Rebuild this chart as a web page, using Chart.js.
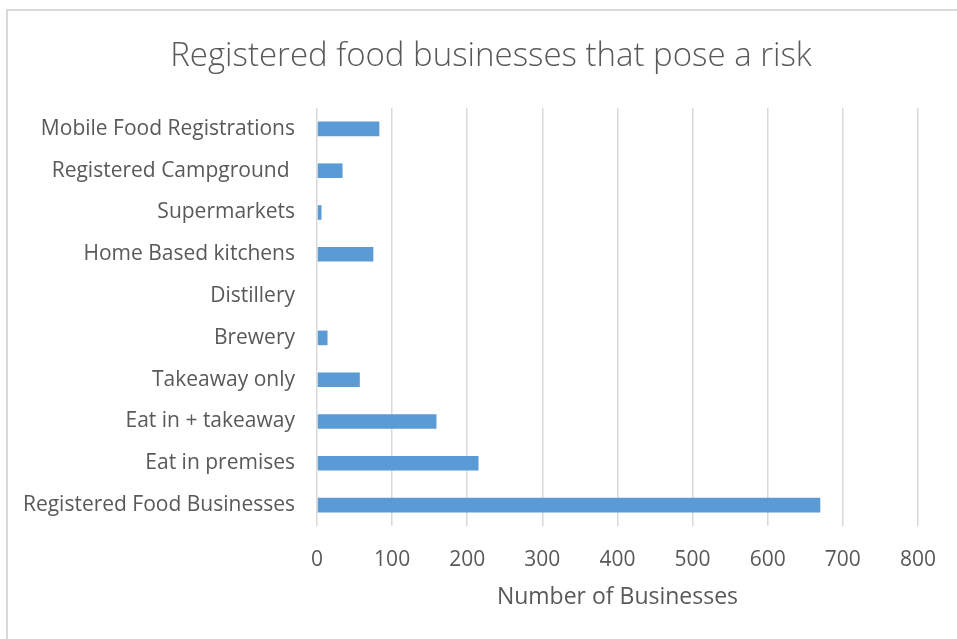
<!DOCTYPE html>
<html>
<head>
<meta charset="utf-8">
<script src="https://cdn.jsdelivr.net/npm/chart.js@4.4.1/dist/chart.umd.min.js"></script>
<style>
  html, body { margin: 0; padding: 0; background: #fff; overflow: hidden; }
  #frame {
    position: absolute; left: 6px; top: 9px; width: 980px; height: 660px;
    border: 2px solid #d9d9d9; box-sizing: border-box;
  }
  #wrap { position: absolute; left: 0; top: 0; width: 957px; height: 639px; }
</style>
</head>
<body>
<div id="frame"></div>
<div id="wrap"><canvas id="chart" width="957" height="639"></canvas></div>
<script>
const chartTitle = "Registered food businesses that pose a risk";
const axisTitle = "Number of Businesses";
const categories = [
  "Mobile Food Registrations",
  "Registered Campground ",
  "Supermarkets",
  "Home Based kitchens",
  "Distillery",
  "Brewery",
  "Takeaway only",
  "Eat in + takeaway",
  "Eat in premises",
  "Registered Food Businesses"
];
const businesses = [83, 34, 6, 75, 1, 14, 57, 159, 215, 670];
const xTicks = [0, 100, 200, 300, 400, 500, 600, 700, 800];

const textColor = "#595959";
const fontFamily = "'Open Sans', 'Noto Sans', sans-serif";

// title drawn by hand so it can sit off-centre like the original
const titlePlugin = {
  id: "topTitle",
  afterDraw(chart) {
    const ctx = chart.ctx;
    ctx.save();
    ctx.font = "300 33px " + fontFamily;
    ctx.fillStyle = textColor;
    ctx.textAlign = "center";
    ctx.textBaseline = "middle";
    ctx.fillText(chartTitle, 491, 57);
    ctx.restore();
  }
};

new Chart(document.getElementById("chart"), {
  type: "bar",
  data: {
    labels: categories,
    datasets: [{
      label: axisTitle,
      data: businesses,
      backgroundColor: "#5B9BD5",
      barPercentage: 1,
      categoryPercentage: 0.35
    }]
  },
  options: {
    indexAxis: "y",
    responsive: false,
    animation: false,
    devicePixelRatio: 1,
    layout: { padding: { left: 0, right: 34, top: 108, bottom: 24 } },
    plugins: {
      legend: { display: false },
      tooltip: { enabled: false }
    },
    scales: {
      x: {
        min: 0,
        max: 800,
        afterBuildTicks: (scale) => { scale.ticks = xTicks.map(v => ({ value: v })); },
        afterFit: (scale) => { scale.height = 639 - 24 - 526; },
        grid: { color: "#d9d9d9", lineWidth: 1.5, drawTicks: false },
        border: { display: false },
        ticks: {
          color: textColor,
          padding: 21,
          maxRotation: 0,
          font: { family: fontFamily, size: 21 }
        },
        title: {
          display: true,
          text: axisTitle,
          color: textColor,
          padding: { top: 10, bottom: 4 },
          font: { family: fontFamily, size: 23 }
        }
      },
      y: {
        afterFit: (scale) => { scale.width = 317; },
        grid: { display: false, drawTicks: false },
        border: { display: false },
        ticks: {
          color: textColor,
          padding: 22,
          font: { family: fontFamily, size: 21 }
        }
      }
    }
  },
  plugins: [titlePlugin]
});
</script>
</body>
</html>
